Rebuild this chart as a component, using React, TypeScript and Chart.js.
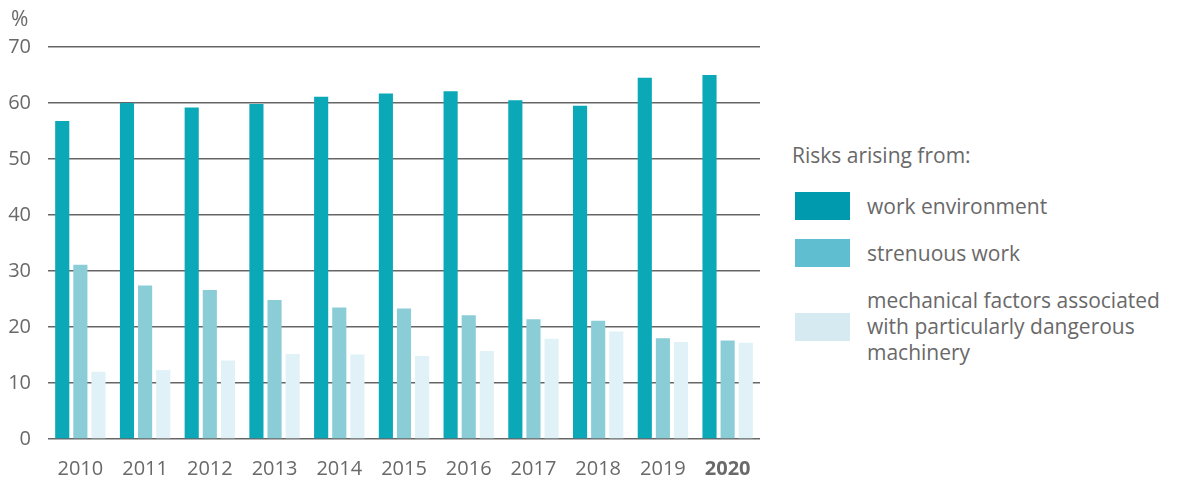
import React, { useEffect, useRef } from "react";
import { Chart, registerables } from "chart.js";

Chart.register(...registerables);

const years = ["2010", "2011", "2012", "2013", "2014", "2015", "2016", "2017", "2018", "2019", "2020"];
const workEnvironment = [56.8, 60.0, 59.2, 59.8, 61.1, 61.7, 62.1, 60.5, 59.5, 64.5, 65.0];
const strenuousWork = [31.1, 27.4, 26.6, 24.8, 23.5, 23.3, 22.1, 21.4, 21.1, 18.0, 17.6];
const mechanicalFactors = [12.0, 12.3, 14.0, 15.2, 15.1, 14.8, 15.7, 17.9, 19.2, 17.3, 17.2];
const yTicks = [0, 10, 20, 30, 40, 50, 60, 70];

const seriesLabels = ["work environment", "strenuous work", "mechanical factors associated with particularly dangerous machinery"];
const legendTitle = "Risks arising from:";
const unitLabel = "%";

const barColors = ["#0ba9b7", "#8bcdd7", "#e0f2f8"];
const legendColors = ["#009aae", "#5fbfd0", "#d5ebf1"];
const textColor = "#696969";
const FONT = "'Open Sans', 'Noto Sans', sans-serif";

export default function App() {
  const ref = useRef<HTMLCanvasElement | null>(null);

  useEffect(() => {
    if (!ref.current) return;
    const chart = new Chart(ref.current, {
      type: "bar",
      data: {
        labels: years,
        datasets: [workEnvironment, strenuousWork, mechanicalFactors].map((d, i) => ({
          label: seriesLabels[i],
          data: d,
          backgroundColor: barColors[i],
          borderWidth: 0,
          categoryPercentage: 0.84,
          barPercentage: 0.78,
        })),
      },
      options: {
        animation: false,
        responsive: false,
        maintainAspectRatio: false,
        layout: { padding: { top: 47, right: 15, left: 0, bottom: 0 } },
        plugins: { legend: { display: false }, tooltip: { enabled: false } },
        scales: {
          x: {
            grid: { display: false },
            border: { display: false },
            ticks: {
              color: textColor,
              padding: 10,
              maxRotation: 0,
              font: (ctx: any) => ({
                family: FONT,
                size: 20,
                weight: ctx.index === years.length - 1 ? "bold" : "normal",
              }),
            },
            afterFit: (s: any) => {
              s.height = 38;
            },
          },
          y: {
            min: 0,
            max: 70,
            afterBuildTicks: (s: any) => {
              s.ticks = yTicks.map((v) => ({ value: v }));
            },
            grid: { color: "#666666", lineWidth: 1.5, drawTicks: false },
            border: { display: false },
            ticks: {
              color: textColor,
              padding: 17,
              font: { family: FONT, size: 20 },
            },
            afterFit: (s: any) => {
              s.width = 48;
            },
          },
        },
      },
    });
    return () => chart.destroy();
  }, []);

  return (
    <div style={{ position: "fixed", left: 0, top: 0, width: 1181, height: 477, background: "#fff", fontFamily: FONT, color: textColor }}>
      <canvas ref={ref} width={775} height={477} style={{ position: "absolute", left: 0, top: 0 }} />
      <div style={{ position: "absolute", left: 11, top: 5, fontSize: 21, lineHeight: "26px" }}>{unitLabel}</div>
      <div style={{ position: "absolute", left: 792, top: 141, fontSize: 21, lineHeight: "28px" }}>{legendTitle}</div>
      {seriesLabels.map((lab, i) => {
        const swTop = [192, 239, 313][i];
        return (
          <React.Fragment key={i}>
            <div style={{ position: "absolute", left: 795, top: swTop, width: 55, height: 28, background: legendColors[i] }} />
            <div
              style={{
                position: "absolute",
                left: 867,
                top: i === 2 ? 287 : swTop + 1,
                width: 310,
                fontSize: 21,
                lineHeight: "26px",
                whiteSpace: "nowrap",
              }}
            >
              {i === 2 ? (
                <>
                  mechanical factors associated
                  <br />
                  with particularly dangerous
                  <br />
                  machinery
                </>
              ) : (
                lab
              )}
            </div>
          </React.Fragment>
        );
      })}
    </div>
  );
}
